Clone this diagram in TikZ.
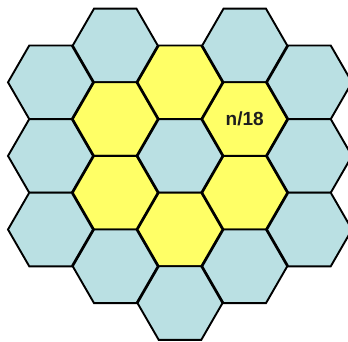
\documentclass[tikz,border=0pt]{standalone}
\usepackage{fontspec}
\setmainfont{Liberation Sans}
\usetikzlibrary{shapes.geometric}

\definecolor{cellblue}{RGB}{186,224,227}
\definecolor{cellyellow}{RGB}{255,255,102}
\definecolor{labelgray}{RGB}{30,30,30}

\tikzset{
    hexcell/.style={regular polygon, regular polygon sides=6, draw=black,
        line width=1.9pt, minimum size=85pt, inner sep=0pt, outer sep=0pt,
        font=\bfseries\fontsize{19}{21}\selectfont, text=labelgray},
}

\begin{document}
\begin{tikzpicture}[x=1pt, y=1pt]
    \useasboundingbox (0,0) rectangle (348,341);
    \clip (0,0) rectangle (348,341);
    % --- 蜂窝: 列号/行号/颜色 ---
    \foreach \c/\r/\col in {0/1/cellblue, 0/3/cellblue, 0/5/cellblue,
                            1/0/cellblue, 1/2/cellyellow, 1/4/cellyellow, 1/6/cellblue,
                            2/1/cellyellow, 2/3/cellblue, 2/5/cellyellow, 2/7/cellblue,
                            3/0/cellblue, 3/4/cellyellow, 3/6/cellblue,
                            4/1/cellblue, 4/3/cellblue, 4/5/cellblue}
        \node[hexcell, fill=\col] (hex-\c-\r) at ({50.5+64.75*\c}, {341-45.5-36.8*\r}) {};
    % 标注的小区
    \node[hexcell, fill=cellyellow] (hex-3-2) at ({50.5+64.75*3}, {341-45.5-36.8*2}) {n/18};
\end{tikzpicture}
\end{document}
